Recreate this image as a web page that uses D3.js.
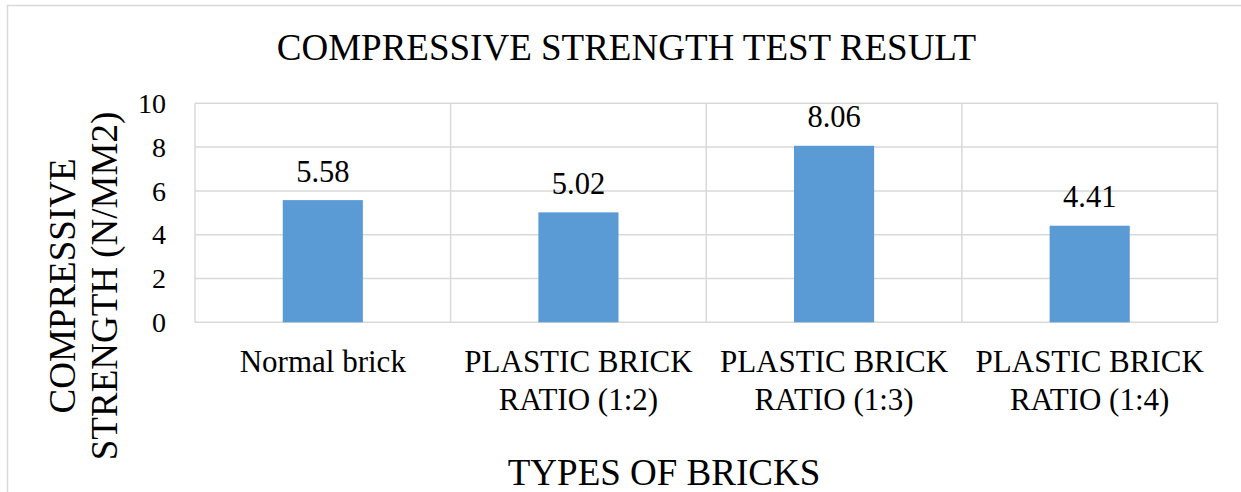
<!DOCTYPE html>
<html>
<head>
<meta charset="utf-8">
<script src="https://cdn.jsdelivr.net/npm/d3@7/dist/d3.min.js"></script>
<style>
  html, body { margin: 0; padding: 0; background: #fff; }
  svg { display: block; }
</style>
</head>
<body>
<svg id="chart" width="1241" height="492"></svg>
<script>
// Compressive strength by brick type
const categories = [
  ["Normal brick"],
  ["PLASTIC BRICK", "RATIO (1:2)"],
  ["PLASTIC BRICK", "RATIO (1:3)"],
  ["PLASTIC BRICK", "RATIO (1:4)"]
];
const values = [5.58, 5.02, 8.06, 4.41];
const yTicks = [0, 2, 4, 6, 8, 10];
const chartTitle = "COMPRESSIVE STRENGTH TEST RESULT";
const xTitle = "TYPES OF BRICKS";
const yTitle = ["COMPRESSIVE", "STRENGTH (N/MM2)"];

const FONT = '"Liberation Serif", "Times New Roman", serif';
const svg = d3.select("#chart");
const plot = { left: 195, right: 1217.5, top: 103.3, bottom: 322.3 };
const gridColor = "#d9d9d9";
const barColor = "#5b9bd5";

// chart area border (extends past the right and bottom edges)
svg.append("rect")
  .attr("x", 7.5).attr("y", 5.5)
  .attr("width", 1245).attr("height", 500)
  .attr("fill", "none").attr("stroke", gridColor).attr("stroke-width", 1.5);

const x = d3.scaleBand()
  .domain(d3.range(categories.length))
  .range([plot.left, plot.right])
  .paddingInner(0).paddingOuter(0);

const y = d3.scaleLinear().domain([0, 10]).range([plot.bottom, plot.top]);

// horizontal gridlines
svg.append("g")
  .selectAll("line")
  .data(yTicks)
  .join("line")
  .attr("x1", plot.left).attr("x2", plot.right)
  .attr("y1", d => y(d)).attr("y2", d => y(d))
  .attr("stroke", gridColor).attr("stroke-width", 1.5);

// vertical gridlines at category boundaries
const bounds = d3.range(categories.length + 1).map(i => plot.left + i * x.bandwidth());
svg.append("g")
  .selectAll("line")
  .data(bounds)
  .join("line")
  .attr("x1", d => d).attr("x2", d => d)
  .attr("y1", plot.top).attr("y2", plot.bottom)
  .attr("stroke", gridColor).attr("stroke-width", 1.5);

// y axis tick labels
const yAxis = d3.axisLeft(y).tickValues(yTicks).tickSize(0).tickPadding(0);
const yg = svg.append("g")
  .attr("transform", `translate(${plot.left - 29},0)`)
  .call(yAxis);
yg.select(".domain").remove();
yg.selectAll("text")
  .style("font-family", FONT)
  .style("font-size", "28px")
  .attr("fill", "#000")
  .attr("dy", "0.33em");

// bars
const barW = x.bandwidth() / 3.19;
svg.append("g")
  .selectAll("rect")
  .data(values)
  .join("rect")
  .attr("x", (d, i) => x(i) + (x.bandwidth() - barW) / 2)
  .attr("y", d => y(d))
  .attr("width", barW)
  .attr("height", d => y(0) - y(d))
  .attr("fill", barColor);

// value labels
svg.append("g")
  .selectAll("text")
  .data(values)
  .join("text")
  .attr("x", (d, i) => x(i) + x.bandwidth() / 2)
  .attr("y", d => y(d) - 18.5)
  .attr("text-anchor", "middle")
  .style("font-family", FONT)
  .style("font-size", "30.5px")
  .attr("fill", "#000")
  .text(d => d.toFixed(2));

// category labels
const cat = svg.append("g")
  .selectAll("text")
  .data(categories)
  .join("text")
  .attr("text-anchor", "middle")
  .style("font-family", FONT)
  .style("font-size", "31px")
  .attr("fill", "#000");
cat.selectAll("tspan")
  .data((d, i) => d.map(line => ({ line, i })))
  .join("tspan")
  .attr("x", d => x(d.i) + x.bandwidth() / 2)
  .attr("y", (d, j) => 371.5 + j * 38)
  .text(d => d.line);

// chart title
svg.append("text")
  .attr("x", 626.5).attr("y", 60)
  .attr("text-anchor", "middle")
  .style("font-family", FONT)
  .style("font-size", "37px")
  .attr("fill", "#000")
  .text(chartTitle);

// x axis title
svg.append("text")
  .attr("x", 664).attr("y", 485)
  .attr("text-anchor", "middle")
  .style("font-family", FONT)
  .style("font-size", "37px")
  .attr("fill", "#000")
  .text(xTitle);

// y axis title (two lines, rotated)
const yt = svg.append("text")
  .attr("transform", "translate(0,286) rotate(-90)")
  .attr("text-anchor", "middle")
  .style("font-family", FONT)
  .style("font-size", "37px")
  .attr("fill", "#000");
yt.selectAll("tspan")
  .data(yTitle)
  .join("tspan")
  .attr("x", 0)
  .attr("y", (d, j) => 75 + j * 42)
  .text(d => d);
</script>
</body>
</html>
